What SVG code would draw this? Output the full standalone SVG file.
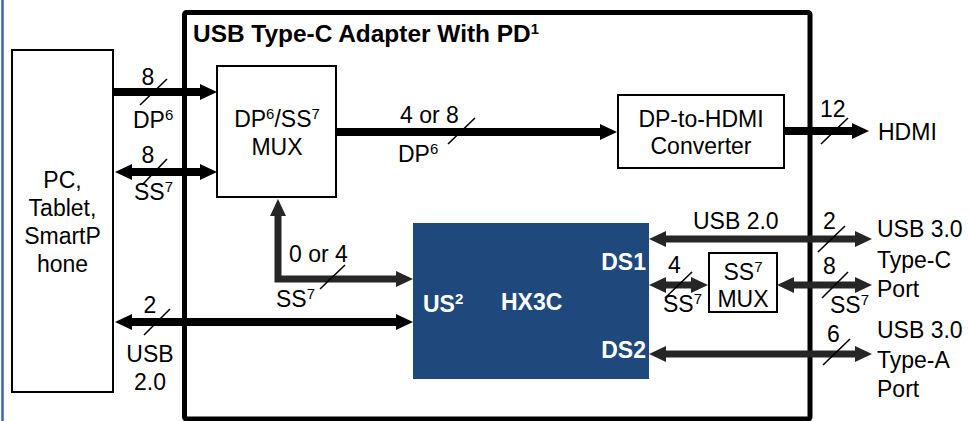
<svg xmlns="http://www.w3.org/2000/svg" width="970" height="421" viewBox="0 0 970 421">
<style>
text{font-family:"Liberation Sans",Arial,sans-serif;font-size:23px;fill:#000}
.b{font-weight:bold}
.w{fill:#fff;font-weight:bold}
.m{text-anchor:middle}
.e{text-anchor:end}
.box{fill:#fff;stroke:#000;stroke-width:2}
.ar{fill:none;stroke:#000;stroke-width:8}
.ag{fill:none;stroke:#262626;stroke-width:7}
.sl{stroke:#000;stroke-width:1.6}
</style>
<defs>
<marker id="hk" markerUnits="userSpaceOnUse" markerWidth="17" markerHeight="16" viewBox="0 -8 17 16" refX="1" refY="0" orient="auto-start-reverse"><path d="M0,-8 L17,0 L0,8 z" fill="#000"/></marker>
<marker id="hg" markerUnits="userSpaceOnUse" markerWidth="17" markerHeight="16" viewBox="0 -8 17 16" refX="1" refY="0" orient="auto-start-reverse"><path d="M0,-8 L17,0 L0,8 z" fill="#262626"/></marker>
</defs>
<rect width="970" height="421" fill="#fff"/>
<line x1="2.5" y1="0" x2="2.5" y2="421" stroke="#3a64a0" stroke-width="2.5"/>

<g id="pc">
<rect class="box" x="12" y="50" width="101" height="342"/>
<text class="m" x="62.5" y="188">PC,</text>
<text class="m" x="62.5" y="216">Tablet,</text>
<text class="m" x="62.5" y="244">SmartP</text>
<text class="m" x="62.5" y="272">hone</text>
</g>

<g id="adapter">
<rect x="184.5" y="12.5" width="625.5" height="406.5" rx="2" fill="none" stroke="#000" stroke-width="5"/>
<text class="b" x="193" y="42" font-size="22" textLength="346" lengthAdjust="spacingAndGlyphs">USB Type-C Adapter With PD<tspan dy="-8" font-size="14">1</tspan></text>
</g>

<g id="dpss-mux">
<rect class="box" x="217" y="66" width="119" height="131"/>
<text class="m" x="277" y="127">DP<tspan dy="-8" font-size="15">6</tspan><tspan dy="8">/SS</tspan><tspan dy="-8" font-size="15">7</tspan></text>
<text class="m" x="277" y="155">MUX</text>
</g>

<g id="dp-hdmi">
<rect class="box" x="618" y="95" width="166" height="73"/>
<text class="m" x="701" y="127">DP-to-HDMI</text>
<text class="m" x="701" y="154">Converter</text>
</g>

<g id="hx3c">
<rect x="413" y="223" width="236" height="156" fill="#1f497d"/>
<text class="w" x="423" y="312">US<tspan dy="-8" font-size="15">2</tspan></text>
<text class="w" x="501" y="310">HX3C</text>
<text class="w e" x="646" y="270">DS1</text>
<text class="w e" x="646" y="358">DS2</text>
</g>

<g id="ss-mux">
<rect class="box" x="709" y="253" width="68" height="59"/>
<text class="m" x="743" y="280">SS<tspan dy="-8" font-size="15">7</tspan></text>
<text class="m" x="743" y="307">MUX</text>
</g>

<g id="ports">
<text x="878" y="140">HDMI</text>
<text x="877" y="237">USB 3.0</text>
<text x="877" y="268">Type-C</text>
<text x="877" y="297">Port</text>
<text x="877" y="338">USB 3.0</text>
<text x="877" y="368">Type-A</text>
<text x="877" y="397">Port</text>
</g>

<g id="connectors">
<line class="ar" x1="113" y1="92" x2="201" y2="92" marker-end="url(#hk)"/>
<line class="ar" x1="131" y1="172" x2="201" y2="172" marker-start="url(#hk)" marker-end="url(#hk)"/>
<line class="ar" x1="131" y1="322" x2="397" y2="322" marker-start="url(#hk)" marker-end="url(#hk)"/>
<path class="ag" stroke-width="8" d="M278,215 L278,279 L397,279" marker-start="url(#hg)" marker-end="url(#hg)"/>
<line class="ar" x1="336" y1="132" x2="601" y2="132" marker-end="url(#hk)"/>
<line class="ar" x1="784" y1="131" x2="853" y2="131" marker-end="url(#hk)"/>
<line class="ag" x1="665" y1="239" x2="856" y2="239" marker-start="url(#hg)" marker-end="url(#hg)"/>
<line class="ag" x1="665" y1="285" x2="692" y2="285" marker-start="url(#hg)" marker-end="url(#hg)"/>
<line class="ag" x1="793" y1="285" x2="856" y2="285" marker-start="url(#hg)" marker-end="url(#hg)"/>
<line class="ag" x1="665" y1="354" x2="856" y2="354" marker-start="url(#hg)" marker-end="url(#hg)"/>

<line class="sl" x1="140" y1="105" x2="167" y2="79"/>
<line class="sl" x1="142" y1="185" x2="167" y2="159"/>
<line class="sl" x1="144" y1="335" x2="170" y2="309"/>
<line class="sl" x1="320" y1="289" x2="345" y2="265"/>
<line class="sl" x1="448" y1="144" x2="475" y2="118"/>
<line class="sl" x1="821" y1="144" x2="848" y2="118"/>
<line class="sl" x1="818" y1="252" x2="845" y2="226"/>
<line class="sl" x1="665" y1="298" x2="692" y2="272"/>
<line class="sl" x1="822" y1="298" x2="848" y2="272"/>
<line class="sl" x1="823" y1="365" x2="850" y2="339"/>

<text class="m" x="148" y="85">8</text>
<text x="133" y="128">DP<tspan dy="-8" font-size="15">6</tspan></text>
<text class="m" x="148" y="163">8</text>
<text x="134" y="200">SS<tspan dy="-8" font-size="15">7</tspan></text>
<text class="m" x="150" y="313">2</text>
<text class="m" x="150" y="362">USB</text>
<text class="m" x="150" y="390">2.0</text>
<text x="400" y="123">4 or 8</text>
<text x="398" y="162">DP<tspan dy="-8" font-size="15">6</tspan></text>
<text x="820" y="117">12</text>
<text x="289" y="262">0 or 4</text>
<text x="276" y="307">SS<tspan dy="-8" font-size="15">7</tspan></text>
<text x="693" y="229">USB 2.0</text>
<text x="823" y="229">2</text>
<text x="668" y="273">4</text>
<text x="663" y="312">SS<tspan dy="-8" font-size="15">7</tspan></text>
<text x="823" y="274">8</text>
<text x="830" y="313">SS<tspan dy="-8" font-size="15">7</tspan></text>
<text x="827" y="342">6</text>
</g>
</svg>
